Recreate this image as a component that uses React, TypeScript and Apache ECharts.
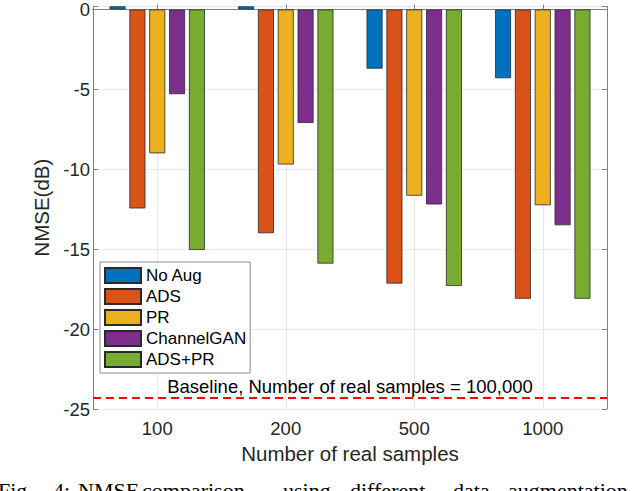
import React, { useEffect, useRef } from "react";
import * as echarts from "echarts";

const categories = ["100", "200", "500", "1000"];
const noAug = [0.2, 0.2, -3.7, -4.3];
const ads = [-12.45, -14.0, -17.15, -18.1];
const pr = [-9.0, -9.7, -11.65, -12.25];
const channelGAN = [-5.3, -7.1, -12.2, -13.5];
const adsPr = [-15.05, -15.9, -17.3, -18.1];
const baselineValue = -24.3;
const baselineText = "Baseline, Number of real samples = 100,000";
const seriesNames = ["No Aug", "ADS", "PR", "ChannelGAN", "ADS+PR"];
const seriesColors = ["#0072BD", "#D95319", "#EDB120", "#7E2F8E", "#77AC30"];
const captionWords = ["Fig.", "4:", "NMSE", "comparison", "using", "different", "data", "augmentation"];
const captionX = [-2, 53, 78, 142, 283, 350, 453, 508];

const SANS = "'Liberation Sans', Arial, Helvetica, sans-serif";
const SERIF = "'Liberation Serif', 'Times New Roman', serif";

export default function App() {
  const ref = useRef<HTMLDivElement>(null);
  useEffect(() => {
    if (!ref.current) return;
    const chart = echarts.init(ref.current, undefined, { renderer: "svg" });
    const values = [noAug, ads, pr, channelGAN, adsPr];
    const axisColor = "#808080";
    const gridColor = "#e8e8e8";
    const barSeries = values.map((vals, i) => ({
      name: seriesNames[i],
      type: "bar",
      xAxisIndex: 0,
      yAxisIndex: 0,
      data: vals,
      barWidth: 16,
      barGap: "24%",
      itemStyle: { color: seriesColors[i], borderColor: "#2a2a2a", borderWidth: 0.8 },
      z: 3,
    }));
    chart.setOption({
      animation: false,
      backgroundColor: "#ffffff",
      textStyle: { fontFamily: SANS },
      grid: { left: 93, right: 33, top: 4, bottom: 82, containLabel: false },
      legend: {
        data: seriesNames,
        orient: "vertical",
        left: 100,
        top: 262,
        icon: "rect",
        itemWidth: 36,
        itemHeight: 15,
        itemGap: 4,
        padding: [5, 4, 5, 4],
        borderColor: "#8c8c8c",
        borderWidth: 1,
        backgroundColor: "#ffffff",
        textStyle: { fontSize: 17, color: "#000", fontFamily: SANS },
        z: 10,
      },
      xAxis: [
        {
          type: "category",
          data: categories,
          position: "bottom",
          name: "Number of real samples",
          nameLocation: "middle",
          nameGap: 31,
          nameTextStyle: { fontSize: 20.5, color: "#262626", fontFamily: SANS },
          axisLine: { show: true, lineStyle: { color: axisColor, width: 1 } },
          axisTick: { show: true, alignWithLabel: true, inside: true, length: 5, lineStyle: { color: axisColor } },
          axisLabel: { fontSize: 18.5, color: "#262626", margin: 10, fontFamily: SANS },
          splitLine: { show: true, alignWithLabel: true, lineStyle: { color: gridColor, width: 1 } },
        },
        {
          type: "category",
          data: categories,
          position: "top",
          axisLine: { show: true, lineStyle: { color: axisColor, width: 1 } },
          axisTick: { show: true, alignWithLabel: true, inside: true, length: 5, lineStyle: { color: axisColor } },
          axisLabel: { show: false },
          splitLine: { show: false },
        },
      ],
      yAxis: [
        {
          type: "value",
          min: -25,
          max: 0.2,
          interval: 5,
          position: "left",
          name: "NMSE(dB)",
          nameLocation: "middle",
          nameGap: 37,
          nameRotate: 90,
          nameTextStyle: { fontSize: 20.5, color: "#262626", fontFamily: SANS },
          axisLine: { show: true, lineStyle: { color: axisColor, width: 1 } },
          axisTick: { show: true, inside: true, length: 5, lineStyle: { color: axisColor } },
          axisLabel: {
            fontSize: 18.5,
            color: "#262626",
            margin: 3,
            fontFamily: SANS,
            formatter: (v: number) => (Math.abs(v % 5) < 1e-9 ? String(v) : ""),
          },
          splitLine: { show: true, lineStyle: { color: gridColor, width: 1 } },
        },
        {
          type: "value",
          min: -25,
          max: 0.2,
          interval: 5,
          position: "right",
          axisLine: { show: true, lineStyle: { color: axisColor, width: 1 } },
          axisTick: { show: true, inside: true, length: 5, lineStyle: { color: axisColor } },
          axisLabel: { show: false },
          splitLine: { show: false },
        },
      ],
      series: [
        ...barSeries,
        {
          name: "baseline",
          type: "line",
          xAxisIndex: 0,
          yAxisIndex: 0,
          data: [],
          silent: true,
          z: 4,
          markLine: {
            silent: true,
            symbol: "none",
            animation: false,
            lineStyle: { color: "#ff0000", type: [8, 5], width: 2 },
            label: {
              show: true,
              position: "insideMiddleTop",
              formatter: baselineText,
              color: "#000",
              fontSize: 18.5,
              fontFamily: SANS,
              distance: 2,
            },
            data: [{ yAxis: baselineValue }],
          },
        },
      ],
      graphic: captionWords.map((w, i) => ({
        type: "text",
        x: captionX[i],
        y: 479,
        silent: true,
        style: {
          text: w,
          fontSize: 22,
          fontFamily: SERIF,
          fill: "#000",
          verticalAlign: "top",
        },
      })),
    });
    return () => chart.dispose();
  }, []);
  return (
    <div
      ref={ref}
      style={{ position: "fixed", left: 0, top: 0, width: 640, height: 491, background: "#fff" }}
    />
  );
}
